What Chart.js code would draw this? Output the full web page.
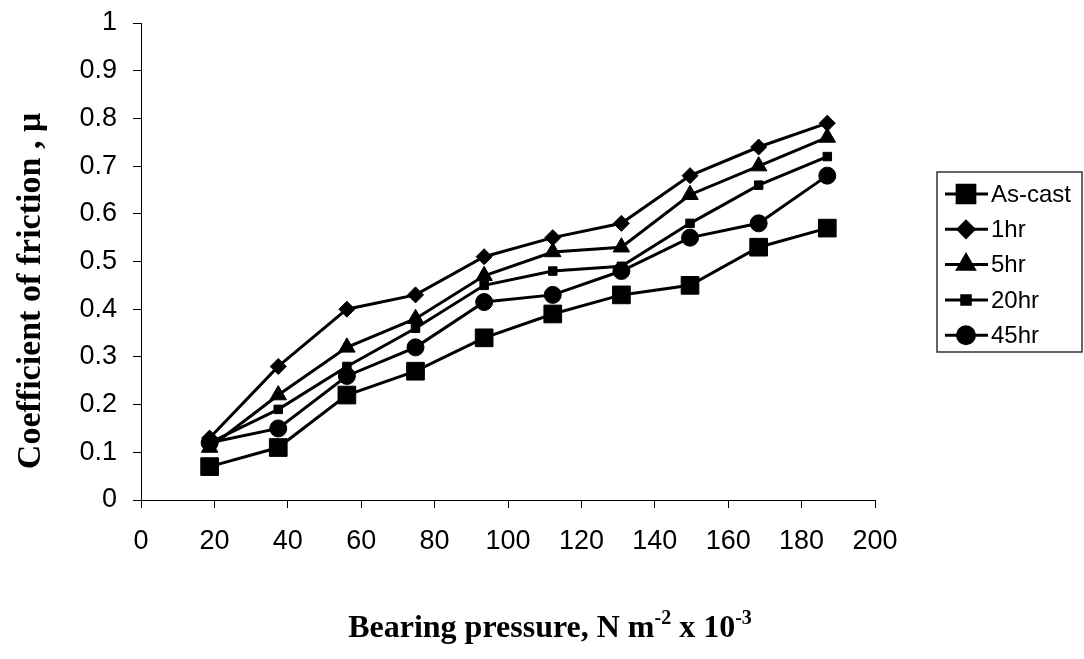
<!DOCTYPE html>
<html>
<head>
<meta charset="utf-8">
<title>Coefficient of friction vs bearing pressure</title>
<script src="https://cdn.jsdelivr.net/npm/chart.js@4.4.1/dist/chart.umd.min.js"></script>
<style>
  html, body { margin: 0; padding: 0; background: #fff; }
  #wrap { width: 1084px; height: 659px; }
</style>
</head>
<body>
<div id="wrap"><canvas id="frictionChart" width="1084" height="659"></canvas></div>
<script>
// bearing pressure, N m^-2 x 10^-3
const pressure = [18.7, 37.4, 56.1, 74.8, 93.5, 112.2, 130.9, 149.6, 168.3, 187];

// coefficient of friction for each heat treatment
const asCast = [0.07, 0.11, 0.22, 0.27, 0.34, 0.39, 0.43, 0.45, 0.53, 0.57];
const hr1    = [0.13, 0.28, 0.40, 0.43, 0.51, 0.55, 0.58, 0.68, 0.74, 0.79];
const hr5    = [0.11, 0.22, 0.32, 0.38, 0.47, 0.52, 0.53, 0.64, 0.70, 0.76];
const hr20   = [0.12, 0.19, 0.28, 0.36, 0.45, 0.48, 0.49, 0.58, 0.66, 0.72];
const hr45   = [0.12, 0.15, 0.26, 0.32, 0.415, 0.43, 0.48, 0.55, 0.58, 0.68];

const seriesNames = ['As-cast', '1hr', '5hr', '20hr', '45hr'];
const xTicks = [0, 20, 40, 60, 80, 100, 120, 140, 160, 180, 200];
const yTicks = [0, 0.1, 0.2, 0.3, 0.4, 0.5, 0.6, 0.7, 0.8, 0.9, 1];

const markers = [
    { style: 'rect', r: 12.5 },
    { style: 'rectRot', r: 8 },
    { style: 'triangle', r: 9.5 },
    { style: 'rect', r: 6 },
    { style: 'circle', r: 8.5 }
];

function toPoints(vals) {
    return pressure.map((x, i) => ({ x: x, y: vals[i] }));
}

const allSeries = [asCast, hr1, hr5, hr20, hr45];
const datasets = allSeries.map((vals, i) => ({
    label: seriesNames[i],
    data: toPoints(vals),
    showLine: true,
    borderColor: '#000',
    backgroundColor: '#000',
    borderWidth: 3,
    pointStyle: markers[i].style,
    pointRadius: markers[i].r,
    pointBorderWidth: 1,
    order: 5 - i
}));

const serif = '"Liberation Serif", "Times New Roman", serif';
const sans = '"Liberation Sans", Arial, sans-serif';

// axis titles and the boxed legend drawn by hand
const extras = {
    id: 'extras',
    afterDraw(chart) {
        const ctx = chart.ctx;
        ctx.save();
        ctx.fillStyle = '#000';

        // y title
        ctx.save();
        ctx.translate(31, 291);
        ctx.rotate(-Math.PI / 2);
        ctx.font = 'bold 34px ' + serif;
        ctx.textAlign = 'center';
        ctx.textBaseline = 'middle';
        ctx.fillText('Coefficient of friction , \u03bc', 0, 0);
        ctx.restore();

        // x title with superscripts
        const big = 'bold 32px ' + serif;
        const small = 'bold 20px ' + serif;
        const parts = [
            ['Bearing pressure, N m', big, 0],
            ['-2', small, -13],
            [' x 10', big, 0],
            ['-3', small, -13]
        ];
        let total = 0;
        parts.forEach(p => { ctx.font = p[1]; total += ctx.measureText(p[0]).width; });
        let x = 550 - total / 2;
        ctx.textBaseline = 'alphabetic';
        ctx.textAlign = 'left';
        parts.forEach(p => {
            ctx.font = p[1];
            ctx.fillText(p[0], x, 637 + p[2]);
            x += ctx.measureText(p[0]).width;
        });

        // legend
        ctx.strokeStyle = '#333';
        ctx.lineWidth = 1.5;
        ctx.strokeRect(937, 172, 145, 180);
        ctx.font = '24px ' + sans;
        ctx.textBaseline = 'middle';
        chart.data.datasets.forEach((ds, i) => {
            const y = 194 + i * 35.3;
            ctx.strokeStyle = '#000';
            ctx.lineWidth = 3;
            ctx.beginPath();
            ctx.moveTo(945, y);
            ctx.lineTo(988, y);
            ctx.stroke();
            ctx.fillStyle = '#000';
            Chart.helpers.drawPoint(ctx, {
                pointStyle: ds.pointStyle,
                radius: ds.pointRadius,
                rotation: 0,
                borderWidth: 1
            }, 966, y);
            ctx.fillStyle = '#000';
            ctx.fillText(ds.label, 991, y + 1);
        });
        ctx.restore();
    }
};

const ctx = document.getElementById('frictionChart').getContext('2d');
const frictionChart = new Chart(ctx, {
    type: 'scatter',
    data: { datasets: datasets },
    options: {
        responsive: false,
        animation: false,
        layout: { padding: { top: 23, right: 209, left: 0, bottom: 0 } },
        plugins: {
            legend: { display: false },
            tooltip: { enabled: false }
        },
        scales: {
            x: {
                type: 'linear',
                min: 0,
                max: 200,
                afterBuildTicks: (scale) => { scale.ticks = xTicks.map(v => ({ value: v })); },
                afterFit: (scale) => { scale.height = 159; scale.paddingLeft = 0; scale.paddingRight = 0; },
                grid: { drawOnChartArea: false, drawTicks: true, tickLength: 8, color: '#000', lineWidth: 1 },
                border: { display: true, color: '#000', width: 1 },
                ticks: { color: '#000', padding: 17, maxRotation: 0, font: { family: sans, size: 27 } }
            },
            y: {
                type: 'linear',
                min: 0,
                max: 1,
                afterBuildTicks: (scale) => { scale.ticks = yTicks.map(v => ({ value: v })); },
                afterFit: (scale) => { scale.width = 141; scale.paddingTop = 0; scale.paddingBottom = 0; },
                grid: { drawOnChartArea: false, drawTicks: true, tickLength: 8, color: '#000', lineWidth: 1 },
                border: { display: true, color: '#000', width: 1 },
                ticks: {
                    color: '#000',
                    padding: 16,
                    font: { family: sans, size: 27 },
                    callback: (v) => String(+v.toFixed(1))
                }
            }
        }
    },
    plugins: [extras]
});
</script>
</body>
</html>
